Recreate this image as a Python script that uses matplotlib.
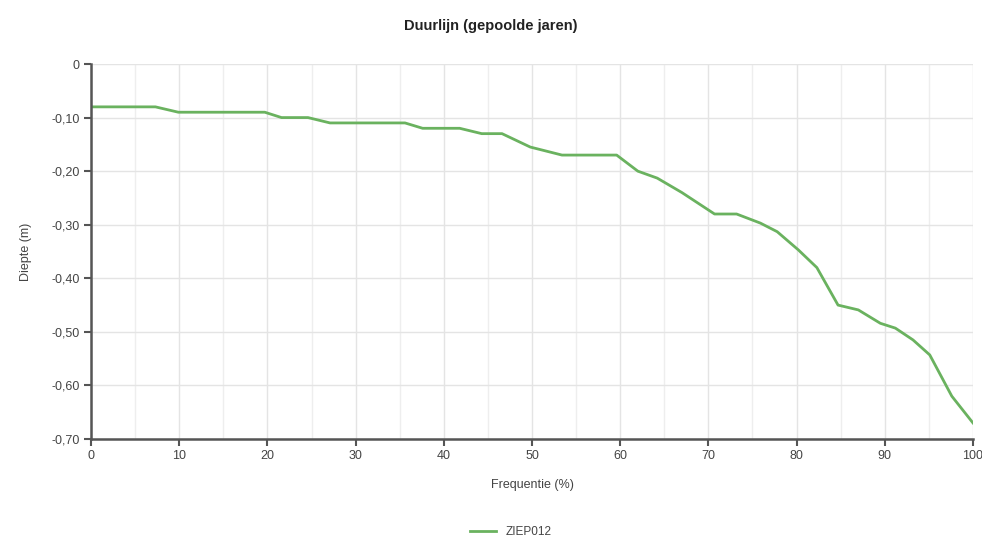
import matplotlib
matplotlib.use('Agg')
from matplotlib import pyplot as plt
from matplotlib.ticker import FuncFormatter, MultipleLocator

# duurlijn ZIEP012
frequentie = [0, 7.3, 9.9, 19.7, 21.6, 24.6, 27.1, 35.6, 37.6, 41.8, 44.3, 46.6,
              49.8, 53.4, 59.6, 62.0, 64.2, 67.0, 70.7, 73.2, 75.9, 77.8, 80.2,
              82.3, 84.7, 87.0, 89.5, 91.2, 93.2, 95.1, 97.6, 100]
diepte = [-0.08, -0.08, -0.09, -0.09, -0.10, -0.10, -0.11, -0.11, -0.12, -0.12,
          -0.13, -0.13, -0.155, -0.17, -0.17, -0.20, -0.213, -0.24, -0.28, -0.28,
          -0.297, -0.313, -0.347, -0.38, -0.45, -0.459, -0.484, -0.493, -0.515,
          -0.543, -0.62, -0.67]
serie_naam = 'ZIEP012'

plt.rcParams['font.family'] = ['Liberation Sans', 'DejaVu Sans']

fig = plt.figure(figsize=(9.82, 5.41), dpi=100)
ax = fig.add_axes([0.0927, 0.1885, 0.8981, 0.6932])

ax.plot(frequentie, diepte, color='#6ab25f', linewidth=2, label=serie_naam)

ax.set_xlim(0, 100)
ax.set_ylim(-0.70, 0)
ax.xaxis.set_major_locator(MultipleLocator(10))
ax.xaxis.set_minor_locator(MultipleLocator(5))
ax.yaxis.set_major_locator(MultipleLocator(0.1))
ax.yaxis.set_major_formatter(FuncFormatter(
    lambda v, p: '0' if abs(v) < 1e-9 else f'{v:.2f}'.replace('.', ',')))

ax.grid(which='major', color='#e4e4e4', linewidth=1)
ax.grid(which='minor', axis='x', color='#eeeeee', linewidth=1)
ax.set_axisbelow(True)

for s in ['top', 'right']:
    ax.spines[s].set_visible(False)
for s in ['left', 'bottom']:
    ax.spines[s].set_color('#555555')
    ax.spines[s].set_linewidth(1.8)

ax.tick_params(which='major', length=5, width=1.5, color='#555555',
               labelsize=9, labelcolor='#444444', pad=3)
ax.tick_params(which='minor', length=0)

ax.set_xlabel('Frequentie (%)', fontsize=9, color='#444444', labelpad=12)
ax.set_ylabel('Diepte (m)', fontsize=9, color='#444444', labelpad=14)
fig.suptitle('Duurlijn (gepoolde jaren)', fontsize=10.5, fontweight='bold',
             color='#222222', y=0.965)

fig.legend(loc='lower center', bbox_to_anchor=(0.52, -0.015), frameon=False,
           fontsize=8.5, handlelength=2.2, labelcolor='#444444')

fig.savefig('out.png', dpi=100)
